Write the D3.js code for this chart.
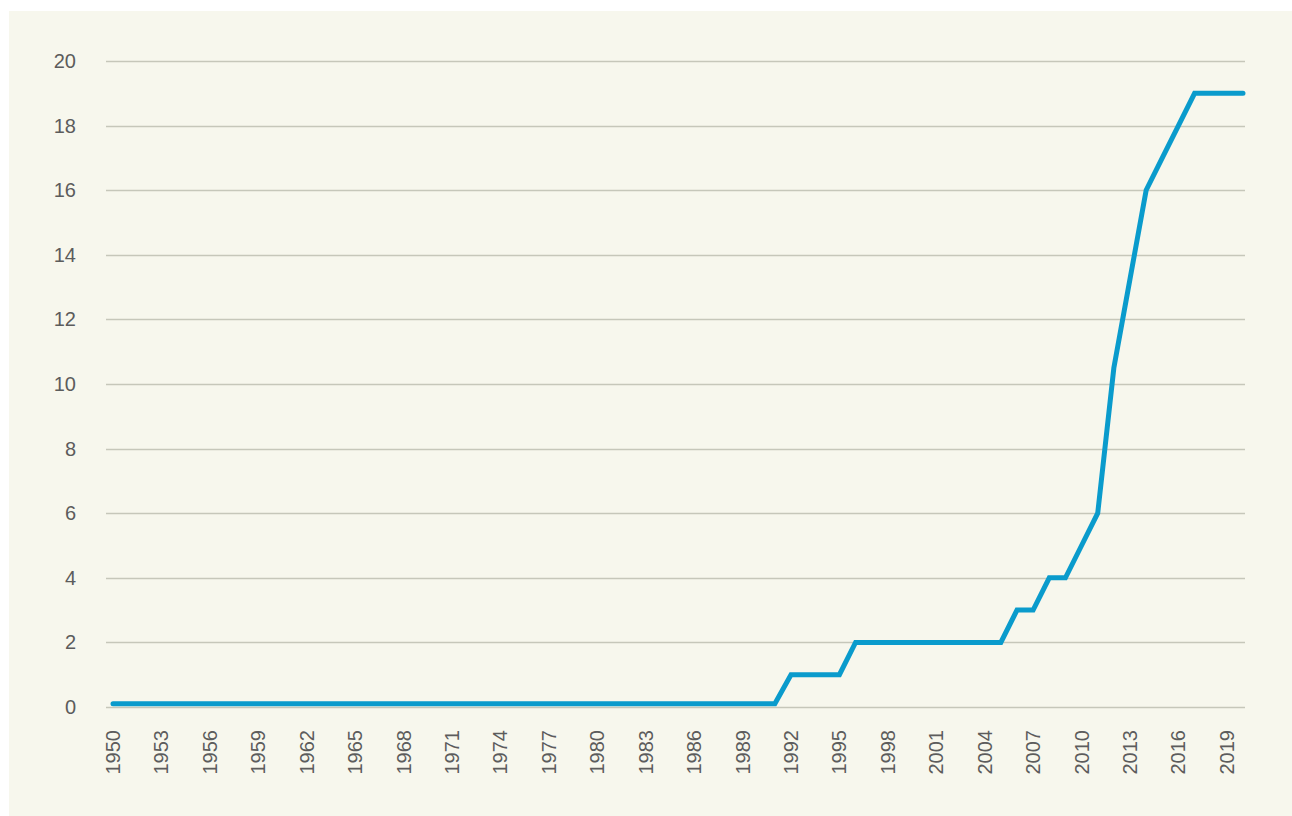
<!DOCTYPE html>
<html>
<head>
<meta charset="utf-8">
<script src="https://cdn.jsdelivr.net/npm/d3@7"></script>
<style>
  html, body { margin: 0; padding: 0; background: #ffffff; }
  svg { display: block; }
</style>
</head>
<body>
<svg id="chart" width="1292" height="816"></svg>
<script>
const years = d3.range(1950, 2021);
const values = [
  // 1950-1959
  0.1, 0.1, 0.1, 0.1, 0.1, 0.1, 0.1, 0.1, 0.1, 0.1,
  // 1960-1969
  0.1, 0.1, 0.1, 0.1, 0.1, 0.1, 0.1, 0.1, 0.1, 0.1,
  // 1970-1979
  0.1, 0.1, 0.1, 0.1, 0.1, 0.1, 0.1, 0.1, 0.1, 0.1,
  // 1980-1989
  0.1, 0.1, 0.1, 0.1, 0.1, 0.1, 0.1, 0.1, 0.1, 0.1,
  // 1990-1999
  0.1, 0.1, 1, 1, 1, 1, 2, 2, 2, 2,
  // 2000-2009
  2, 2, 2, 2, 2, 2, 3, 3, 4, 4,
  // 2010-2019
  5, 6, 10.5, 13.25, 16, 17, 18, 19, 19, 19,
  // 2020
  19
];
const xTickYears = d3.range(1950, 2020, 3);
const yTicks = [0, 2, 4, 6, 8, 10, 12, 14, 16, 18, 20];

const svg = d3.select("#chart");
const W = 1292, H = 816;

// cream panel
svg.append("rect")
  .attr("x", 9).attr("y", 11)
  .attr("width", W - 9).attr("height", H - 11)
  .attr("fill", "#f7f7ed");

const x = d3.scaleLinear().domain([1950, 2020]).range([113, 1243]);
const y = d3.scaleLinear().domain([0, 20]).range([707, 61]);

const gridLeft = 106, gridRight = 1245;

// gridlines
svg.append("g").selectAll("line")
  .data(yTicks)
  .join("line")
  .attr("x1", gridLeft).attr("x2", gridRight)
  .attr("y1", d => Math.round(y(d)) + 0.5)
  .attr("y2", d => Math.round(y(d)) + 0.5)
  .attr("stroke", "#c6c7ba")
  .attr("stroke-width", 1.4);

// y labels
svg.append("g").selectAll("text")
  .data(yTicks)
  .join("text")
  .attr("x", 76)
  .attr("y", d => y(d))
  .attr("dy", "0.35em")
  .attr("text-anchor", "end")
  .attr("font-family", "'Liberation Sans', Arial, Helvetica, sans-serif")
  .attr("font-size", 20)
  .attr("fill", "#5c5c5c")
  .text(d => d);

// x labels (rotated)
svg.append("g").selectAll("text")
  .data(xTickYears)
  .join("text")
  .attr("transform", d => `translate(${x(d)},730) rotate(-90)`)
  .attr("dy", "0.35em")
  .attr("text-anchor", "end")
  .attr("font-family", "'Liberation Sans', Arial, Helvetica, sans-serif")
  .attr("font-size", 20)
  .attr("fill", "#5c5c5c")
  .text(d => d);

// line
const line = d3.line()
  .x((d, i) => x(years[i]))
  .y(d => y(d));

svg.append("path")
  .datum(values)
  .attr("d", line)
  .attr("fill", "none")
  .attr("stroke", "#0a9bcc")
  .attr("stroke-width", 5)
  .attr("stroke-linejoin", "miter")
  .attr("stroke-linecap", "round");
</script>
</body>
</html>
